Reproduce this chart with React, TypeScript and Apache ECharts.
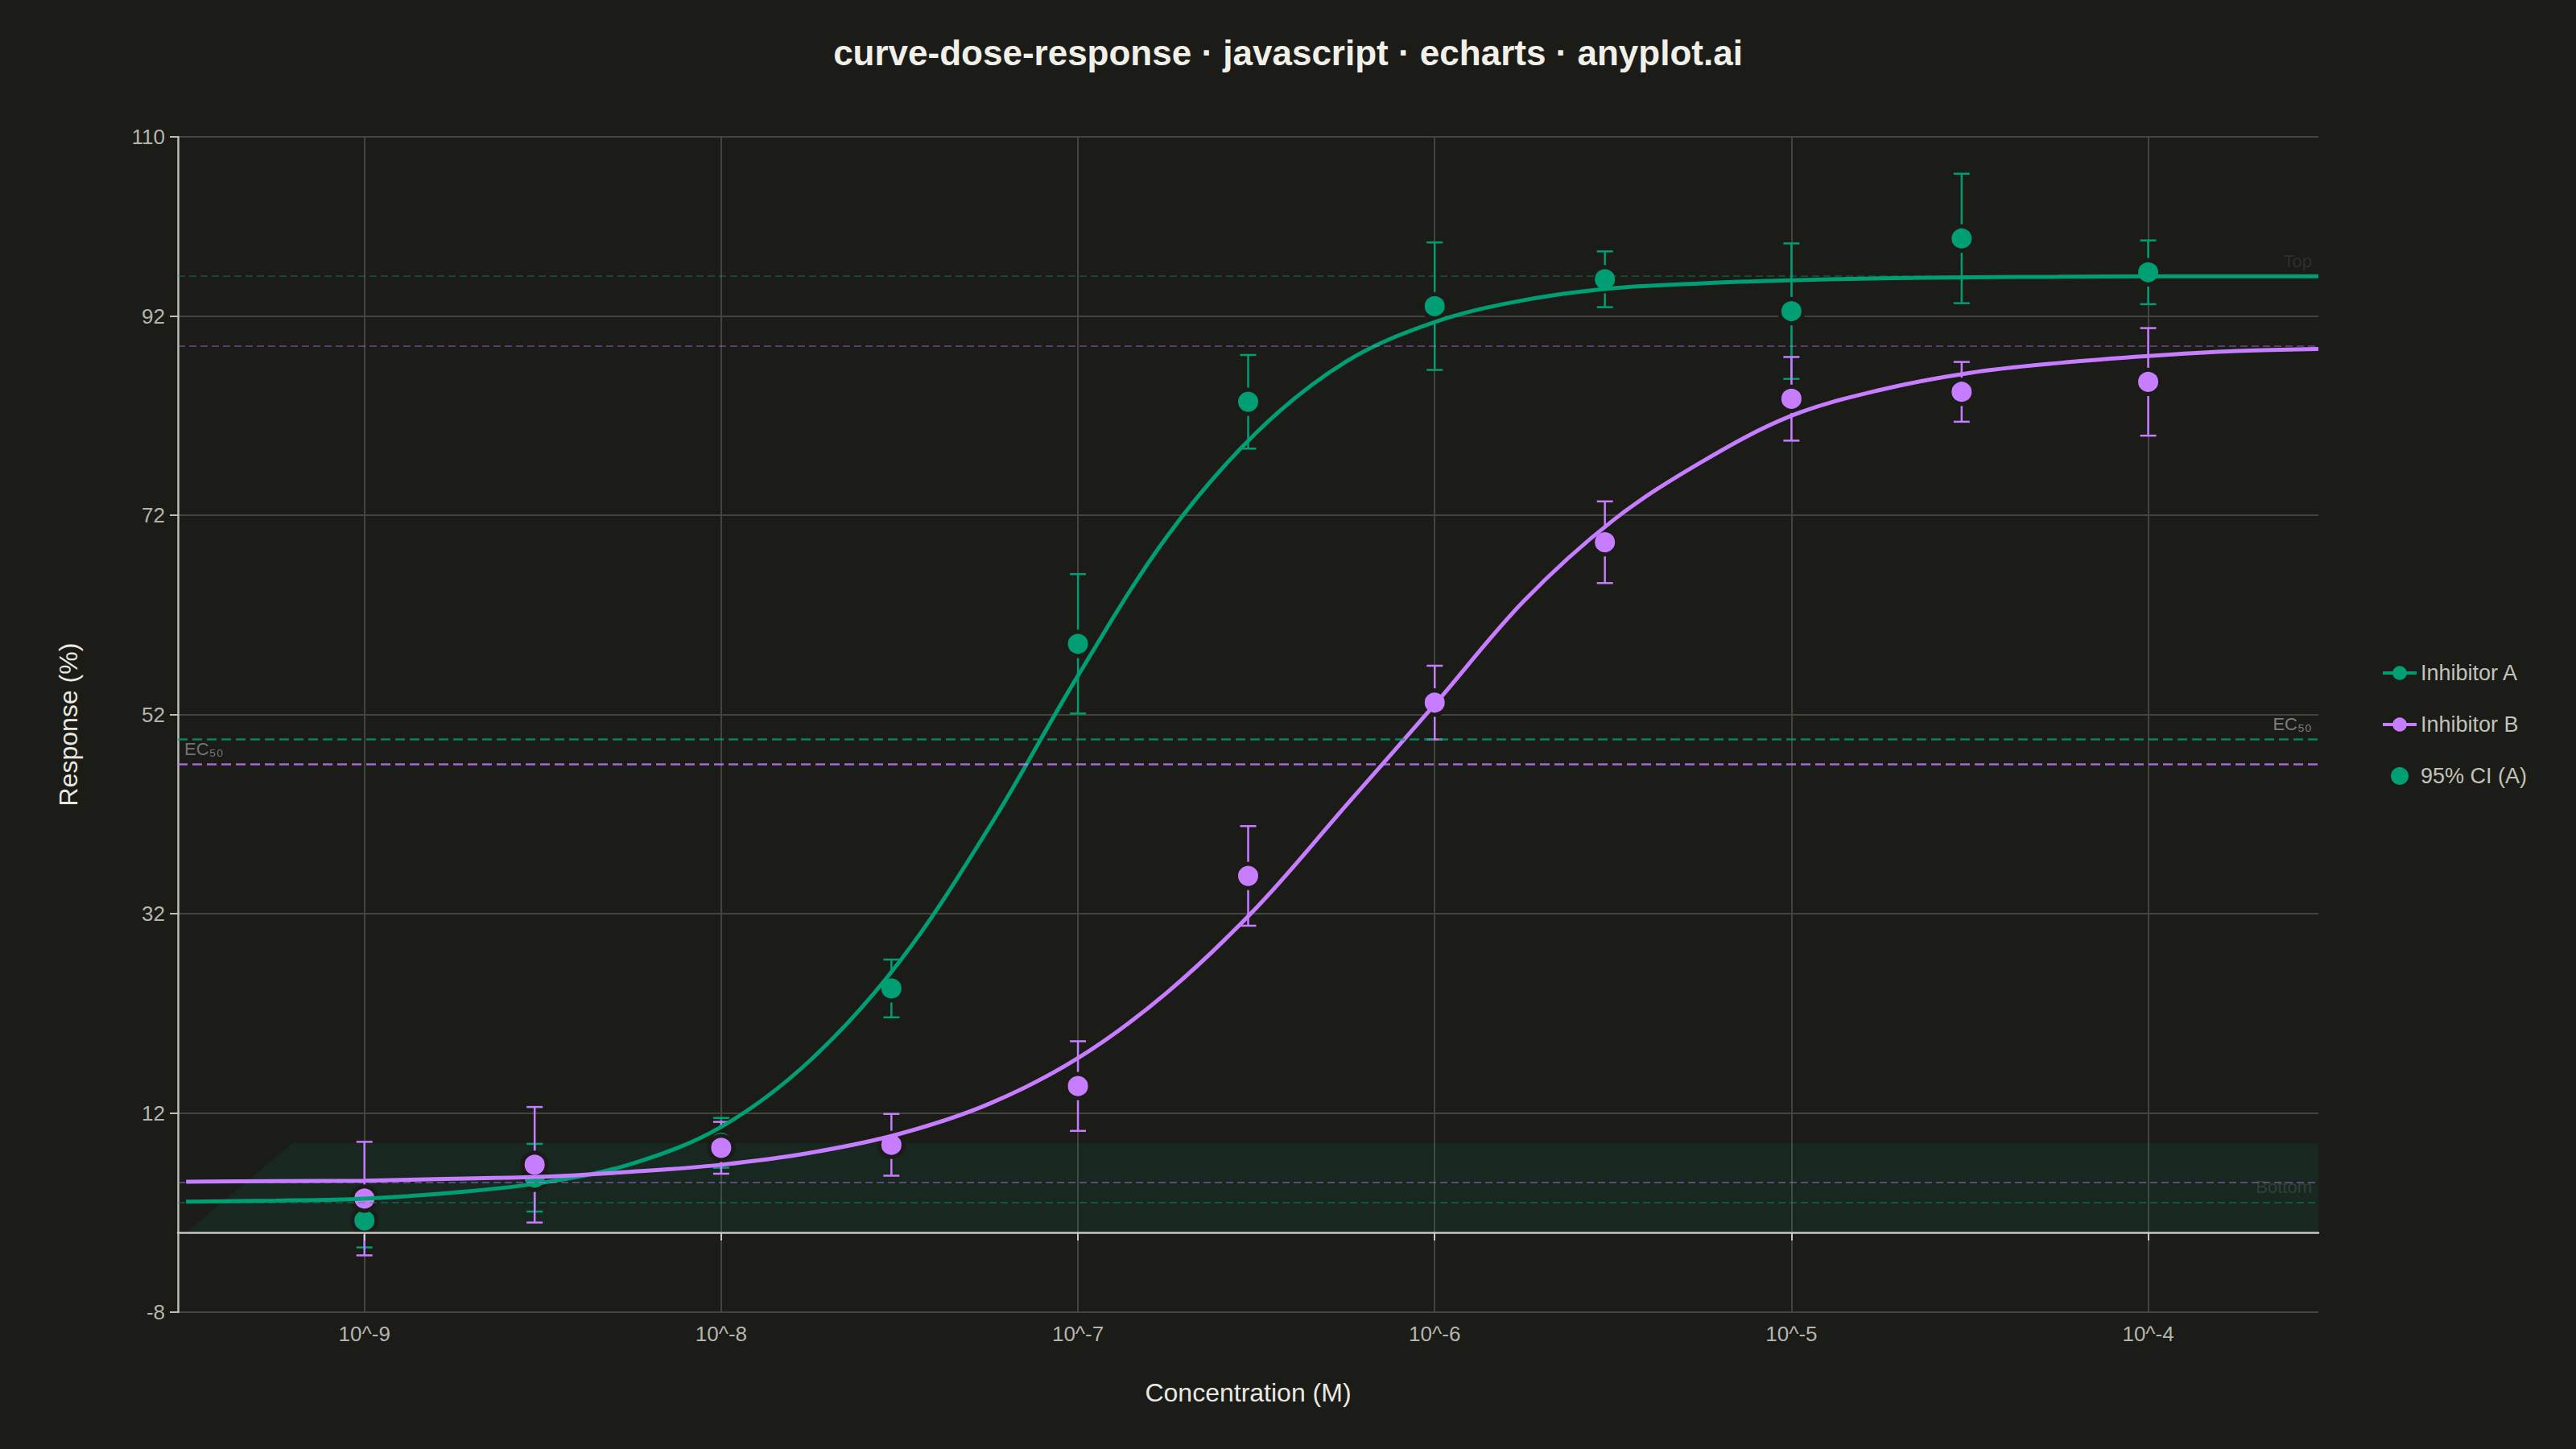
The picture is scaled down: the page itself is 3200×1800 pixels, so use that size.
import React, { useEffect, useRef } from 'react';
import * as echarts from 'echarts';

// ---------- data ----------
const doses = [1e-9, 3e-9, 1e-8, 3e-8, 1e-7, 3e-7, 1e-6, 3e-6, 1e-5, 3e-5, 1e-4];
const meanA = [1.2, 5.5, 9.0, 24.5, 59.1, 83.4, 93.0, 95.7, 92.5, 99.8, 96.4];
const errA = [2.7, 3.4, 2.5, 2.9, 7.0, 4.7, 6.4, 2.8, 6.8, 6.5, 3.2];
const meanB = [3.4, 6.8, 8.5, 8.8, 14.7, 35.8, 53.2, 69.3, 83.7, 84.4, 85.4];
const errB = [5.7, 5.8, 2.6, 3.1, 4.5, 5.0, 3.7, 4.1, 4.2, 3.0, 5.4];

// fitted curves, read every quarter decade (log10 of concentration)
const curveExp = [-9.5, -9.25, -9.0, -8.75, -8.5, -8.25, -8.0, -7.75, -7.5, -7.25, -7.0, -6.75, -6.5, -6.25, -6.0, -5.75, -5.5, -5.25, -5.0, -4.75, -4.5, -4.25, -4.0, -3.75, -3.523];
const curveA = [3.1, 3.2, 3.4, 4.0, 5.0, 6.9, 10.6, 17.3, 27.2, 40.6, 55.9, 69.9, 80.3, 87.4, 91.4, 93.6, 94.8, 95.3, 95.6, 95.8, 95.9, 95.95, 96.0, 96.0, 96.0];
const curveB = [5.1, 5.15, 5.2, 5.4, 5.6, 6.1, 6.8, 8.0, 9.9, 12.9, 17.5, 24.1, 32.6, 42.8, 53.0, 63.4, 71.5, 77.4, 82.0, 84.6, 86.3, 87.3, 88.0, 88.5, 88.7];

// shaded band "95% CI (A)"
const bandX = [3.16e-10, 6.3e-10, 3e-4];
const bandY = [0, 9, 9];

// reference levels
const topA = 96, bottomA = 3, ec50LevelA = 49.5;
const topB = 89, bottomB = 5, ec50LevelB = 47;

// axes
const xMin = 3e-10, xMax = 3e-4;
const xTicks = [1e-9, 1e-8, 1e-7, 1e-6, 1e-5, 1e-4];
const yMin = -8, yMax = 110, yInterval = 20;

// ---------- styles ----------
const BG = '#1b1b18';
const GREEN = '#009E73';
const PURPLE = '#C77DFF';
const FONT = 'Liberation Sans, Arial, sans-serif';
const GRID = { left: 221, right: 320, top: 170, bottom: 170 };

const pairs = (xs: number[], ys: number[]) => xs.map((x, i) => [x, ys[i]]);
const curvePts = (exps: number[], ys: number[]) => exps.map((e, i) => [Math.pow(10, e), ys[i]]);
const errPts = (m: number[], e: number[]) => doses.map((d, i) => [d, m[i], e[i]]);

const errorBarSeries = (name: string, color: string, data: number[][]) => ({
  name,
  type: 'custom',
  data,
  encode: { x: 0, y: 1 },
  silent: true,
  renderItem: (_p: any, api: any) => {
    const x = api.value(0);
    const y = api.value(1);
    const e = api.value(2);
    const hi = api.coord([x, y + e]);
    const lo = api.coord([x, y - e]);
    const hw = 10;
    const style = { stroke: color, lineWidth: 2.5 };
    return {
      type: 'group',
      children: [
        { type: 'line', shape: { x1: hi[0], y1: hi[1], x2: lo[0], y2: lo[1] }, style },
        { type: 'line', shape: { x1: hi[0] - hw, y1: hi[1], x2: hi[0] + hw, y2: hi[1] }, style },
        { type: 'line', shape: { x1: lo[0] - hw, y1: lo[1], x2: lo[0] + hw, y2: lo[1] }, style },
      ],
    };
  },
});

const markerSeries = (name: string, color: string, data: number[][]) => ({
  name,
  type: 'scatter',
  data,
  symbol: 'circle',
  symbolSize: 30,
  itemStyle: { color, borderColor: BG, borderWidth: 5, opacity: 1 },
  silent: true,
});

const refLine = (y: number, color: string, opacity: number, width: number, dash: number[], label?: any) => ({
  yAxis: y,
  lineStyle: { color, opacity, width, type: dash },
  label: label ? { show: true, fontSize: 22, distance: 8, fontFamily: FONT, ...label } : { show: false },
});

const tickFmt = (v: number) => {
  const e = Math.log10(v);
  if (Math.abs(e - Math.round(e)) > 1e-6) return '';
  return '10^' + Math.round(e);
};

const option: any = {
  animation: false,
  backgroundColor: BG,
  textStyle: { fontFamily: FONT },
  title: {
    text: 'curve-dose-response · javascript · echarts · anyplot.ai',
    left: 'center',
    top: 38,
    textStyle: { fontSize: 44, fontWeight: 'bold', color: '#f0efe8', fontFamily: FONT },
  },
  legend: {
    orient: 'vertical',
    left: 2953,
    top: 'middle',
    itemWidth: 42,
    itemHeight: 22,
    itemGap: 37,
    lineStyle: { width: 4 },
    textStyle: { fontSize: 27, color: '#c2c2ba', fontFamily: FONT },
    data: [{ name: 'Inhibitor A' }, { name: 'Inhibitor B' }, { name: '95% CI (A)', icon: 'circle' }],
  },
  grid: [{ ...GRID }, { ...GRID }],
  xAxis: [
    {
      type: 'log',
      logBase: 10,
      gridIndex: 0,
      min: xMin,
      max: xMax,
      name: 'Concentration (M)',
      nameLocation: 'middle',
      nameGap: 84,
      nameTextStyle: { fontSize: 32, color: '#e8e8e0', fontFamily: FONT },
      axisLine: { show: false, onZero: false },
      axisTick: { show: false, customValues: xTicks },
      axisLabel: {
        fontSize: 26,
        color: '#b5b5ad',
        margin: 14,
        customValues: xTicks,
        formatter: tickFmt,
      },
      splitLine: { show: true, lineStyle: { color: '#44443f', width: 2 } },
    },
    {
      type: 'log',
      logBase: 10,
      gridIndex: 1,
      min: xMin,
      max: xMax,
      z: 5,
      axisLine: { show: true, onZero: true, lineStyle: { color: '#c8c8c0', width: 2.5 } },
      axisTick: { show: true, length: 10, customValues: xTicks, lineStyle: { color: '#c8c8c0', width: 2 } },
      axisLabel: { show: false },
      splitLine: { show: false },
    },
  ],
  yAxis: [
    {
      type: 'value',
      gridIndex: 0,
      min: yMin,
      max: yMax,
      interval: yInterval,
      name: 'Response (%)',
      nameLocation: 'middle',
      nameGap: 120,
      nameTextStyle: { fontSize: 32, color: '#e8e8e0', fontFamily: FONT },
      axisLine: { show: true, onZero: false, lineStyle: { color: '#bdbdb5', width: 2.5 } },
      axisTick: { show: true, length: 10, lineStyle: { color: '#bdbdb5', width: 2 } },
      axisLabel: { fontSize: 26, color: '#b5b5ad', margin: 16 },
      splitLine: { show: true, lineStyle: { color: '#44443f', width: 2 } },
    },
    {
      type: 'value',
      gridIndex: 1,
      min: yMin,
      max: yMax,
      interval: yInterval,
      axisLine: { show: false },
      axisTick: { show: false },
      axisLabel: { show: false },
      splitLine: { show: false },
    },
  ],
  series: [
    {
      name: '95% CI (A)',
      type: 'line',
      data: pairs(bandX, bandY),
      symbol: 'none',
      lineStyle: { width: 0, opacity: 0 },
      itemStyle: { color: GREEN },
      areaStyle: { color: 'rgba(0,158,115,0.10)', opacity: 1 },
      silent: true,
      z: 1,
    },
    {
      name: 'Inhibitor A',
      type: 'line',
      data: curvePts(curveExp, curveA),
      smooth: 0.35,
      showSymbol: false,
      symbol: 'circle',
      symbolSize: 20,
      lineStyle: { color: GREEN, width: 5 },
      itemStyle: { color: GREEN },
      silent: true,
      markLine: {
        silent: true,
        symbol: 'none',
        data: [
          refLine(topA, GREEN, 0.35, 2, [9, 5], { position: 'insideEndTop', formatter: 'Top', color: '#55554f' }),
          refLine(bottomA, GREEN, 0.4, 2, [9, 5], { position: 'insideEndTop', formatter: 'Bottom', color: '#5c6660' }),
          refLine(ec50LevelA, GREEN, 0.8, 2.5, [12, 6], { position: 'insideEndTop', formatter: 'EC₅₀', color: '#9a9a94' }),
        ],
      },
    },
    {
      name: 'Inhibitor B',
      type: 'line',
      data: curvePts(curveExp, curveB),
      smooth: 0.35,
      showSymbol: false,
      symbol: 'circle',
      symbolSize: 20,
      lineStyle: { color: PURPLE, width: 5 },
      itemStyle: { color: PURPLE },
      silent: true,
      markLine: {
        silent: true,
        symbol: 'none',
        data: [
          refLine(topB, PURPLE, 0.35, 2, [9, 5]),
          refLine(bottomB, PURPLE, 0.4, 2, [9, 5]),
          refLine(ec50LevelB, PURPLE, 0.8, 2.5, [12, 6], { position: 'insideStartTop', formatter: 'EC₅₀', color: '#8e8e88' }),
        ],
      },
    },
    errorBarSeries('Inhibitor A', GREEN, errPts(meanA, errA)),
    markerSeries('Inhibitor A', GREEN, pairs(doses, meanA)),
    errorBarSeries('Inhibitor B', PURPLE, errPts(meanB, errB)),
    markerSeries('Inhibitor B', PURPLE, pairs(doses, meanB)),
  ],
};

export default function App() {
  const ref = useRef<HTMLDivElement>(null);
  useEffect(() => {
    document.body.style.margin = '0';
    document.body.style.background = BG;
    const chart = echarts.init(ref.current as HTMLDivElement, null, { renderer: 'svg' });
    chart.setOption(option);
    return () => chart.dispose();
  }, []);
  return <div ref={ref} style={{ width: 3200, height: 1800 }} />;
}
